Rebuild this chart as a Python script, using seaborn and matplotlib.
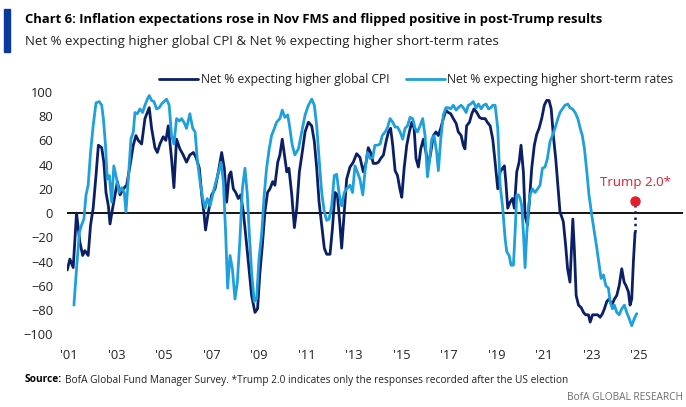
import matplotlib
matplotlib.use("Agg")
import matplotlib.pyplot as plt
from matplotlib.patches import Rectangle
import seaborn as sns
import pandas as pd

# Net % expecting higher global CPI
cpi_year = [2000.93, 2001.04, 2001.18, 2001.32, 2001.46, 2001.58, 2001.67, 2001.81, 2001.91, 2002.02,
            2002.14, 2002.24, 2002.38, 2002.47, 2002.56, 2002.66, 2002.73, 2002.84, 2002.94, 2003.04,
            2003.15, 2003.29, 2003.43, 2003.57, 2003.71, 2003.82, 2003.92, 2004.06, 2004.20, 2004.30,
            2004.38, 2004.48, 2004.62, 2004.72, 2004.83, 2004.97, 2005.08, 2005.18, 2005.32, 2005.42,
            2005.53, 2005.67, 2005.81, 2005.95, 2006.09, 2006.24, 2006.35, 2006.49, 2006.59, 2006.68,
            2006.75, 2006.87, 2007.01, 2007.15, 2007.29, 2007.43, 2007.54, 2007.64, 2007.74, 2007.82,
            2007.92, 2008.02, 2008.13, 2008.23, 2008.34, 2008.44, 2008.55, 2008.69, 2008.83, 2008.94,
            2009.04, 2009.14, 2009.25, 2009.36, 2009.46, 2009.58, 2009.67, 2009.79, 2009.88, 2009.98,
            2010.07, 2010.17, 2010.26, 2010.38, 2010.49, 2010.59, 2010.70, 2010.82, 2010.94, 2011.08,
            2011.22, 2011.33, 2011.43, 2011.53, 2011.64, 2011.75, 2011.85, 2011.99, 2012.09, 2012.20,
            2012.30, 2012.41, 2012.48, 2012.59, 2012.69, 2012.83, 2012.97, 2013.11, 2013.25, 2013.39,
            2013.51, 2013.60, 2013.70, 2013.81, 2013.93, 2014.03, 2014.12, 2014.24, 2014.35, 2014.45,
            2014.54, 2014.63, 2014.73, 2014.83, 2014.94, 2015.01, 2015.11, 2015.22, 2015.33, 2015.43,
            2015.53, 2015.61, 2015.71, 2015.81, 2015.92, 2016.03, 2016.13, 2016.23, 2016.34, 2016.45,
            2016.55, 2016.65, 2016.76, 2016.87, 2016.97, 2017.07, 2017.18, 2017.30, 2017.39, 2017.51,
            2017.60, 2017.67, 2017.74, 2017.86, 2017.96, 2018.05, 2018.17, 2018.28, 2018.38, 2018.52,
            2018.61, 2018.73, 2018.84, 2018.94, 2019.05, 2019.15, 2019.25, 2019.33, 2019.39, 2019.47,
            2019.57, 2019.67, 2019.75, 2019.85, 2019.95, 2020.03, 2020.13, 2020.20, 2020.30, 2020.38,
            2020.48, 2020.59, 2020.69, 2020.79, 2020.90, 2021.01, 2021.11, 2021.21, 2021.30, 2021.39,
            2021.49, 2021.58, 2021.67, 2021.81, 2021.91, 2021.99, 2022.09, 2022.16, 2022.21, 2022.28,
            2022.35, 2022.45, 2022.56, 2022.66, 2022.75, 2022.87, 2022.94, 2023.04, 2023.15, 2023.26,
            2023.36, 2023.46, 2023.54, 2023.64, 2023.74, 2023.85, 2023.96, 2024.06, 2024.16, 2024.27,
            2024.37, 2024.45, 2024.55, 2024.62, 2024.69, 2024.76, 2024.83]
cpi_val = [-47, -38, -45, 0, -24, -35, -31, -35, -10, 4,
           31, 56, 54, 42, 17, 6, -9, 4, 15, 26,
           15, 20, 23, 39, 56, 64, 60, 57, 78, 83,
           87, 70, 54, 50, 57, 63, 60, 72, 45, 21,
           61, 53, 48, 42, 48, 50, 46, 37, 15, 1,
           -14, 1, 15, 20, 34, 50, 37, 9, 31, 34,
           20, 17, 12, 15, 1, -18, -40, -68, -82, -79,
           -49, -27, 1, 17, 20, 26, 23, 42, 48, 61,
           48, 34, 37, 15, -12, 4, 34, 50, 67, 75,
           72, 59, 37, 9, -10, -29, -34, -34, -13, 17,
           15, -10, -29, 1, 28, 38, 42, 49, 46, 34,
           42, 54, 50, 41, 41, 42, 45, 48, 59, 67,
           70, 56, 35, 31, 19, 13, 37, 56, 67, 75,
           70, 45, 38, 53, 61, 50, 39, 50, 64, 67,
           64, 70, 78, 85, 83, 82, 78, 74, 67, 64,
           56, 53, 72, 75, 82, 86, 83, 79, 78, 78,
           75, 72, 61, 42, 20, 34, 37, 39, 26, 4,
           9, 12, 4, 34, 42, 56, 34, -2, -10, 9,
           37, 56, 65, 70, 78, 89, 93, 93, 86, 64,
           45, 23, 1, -7, -27, -46, -57, -27, -5, -32,
           -68, -76, -78, -82, -84, -84, -90, -84, -84, -84,
           -86, -83, -79, -73, -71, -76, -71, -68, -60, -46,
           -57, -60, -65, -76, -71, -40, -16]

# Net % expecting higher short-term rates
rates_year = [2001.21, 2001.32, 2001.44, 2001.53, 2001.63, 2001.72, 2001.81, 2001.91, 2002.02, 2002.14,
              2002.28, 2002.38, 2002.45, 2002.54, 2002.61, 2002.70, 2002.80, 2002.89, 2003.01, 2003.11,
              2003.22, 2003.33, 2003.40, 2003.50, 2003.61, 2003.71, 2003.78, 2003.88, 2003.99, 2004.10,
              2004.20, 2004.30, 2004.38, 2004.48, 2004.58, 2004.69, 2004.80, 2004.90, 2005.00, 2005.11,
              2005.22, 2005.32, 2005.42, 2005.53, 2005.65, 2005.74, 2005.84, 2005.95, 2006.09, 2006.21,
              2006.31, 2006.40, 2006.52, 2006.63, 2006.73, 2006.82, 2006.94, 2007.05, 2007.15, 2007.26,
              2007.40, 2007.50, 2007.60, 2007.68, 2007.78, 2007.88, 2007.99, 2008.09, 2008.20, 2008.30,
              2008.41, 2008.51, 2008.59, 2008.69, 2008.80, 2008.90, 2009.00, 2009.11, 2009.22, 2009.32,
              2009.43, 2009.53, 2009.65, 2009.74, 2009.88, 2009.98, 2010.09, 2010.21, 2010.30, 2010.40,
              2010.51, 2010.66, 2010.80, 2010.94, 2011.08, 2011.22, 2011.33, 2011.43, 2011.53, 2011.64,
              2011.75, 2011.85, 2011.95, 2012.06, 2012.17, 2012.27, 2012.38, 2012.48, 2012.59, 2012.69,
              2012.83, 2012.94, 2013.04, 2013.14, 2013.25, 2013.37, 2013.46, 2013.56, 2013.67, 2013.79,
              2013.88, 2013.98, 2014.10, 2014.19, 2014.31, 2014.40, 2014.52, 2014.63, 2014.73, 2014.83,
              2014.94, 2015.05, 2015.15, 2015.25, 2015.36, 2015.47, 2015.57, 2015.67, 2015.78, 2015.89,
              2015.99, 2016.09, 2016.17, 2016.27, 2016.37, 2016.48, 2016.55, 2016.65, 2016.76, 2016.87,
              2016.97, 2017.07, 2017.18, 2017.30, 2017.39, 2017.51, 2017.60, 2017.72, 2017.81, 2017.91,
              2018.02, 2018.14, 2018.24, 2018.35, 2018.45, 2018.56, 2018.66, 2018.76, 2018.84, 2018.94,
              2019.05, 2019.15, 2019.25, 2019.36, 2019.43, 2019.53, 2019.61, 2019.71, 2019.78, 2019.85,
              2019.92, 2019.99, 2020.06, 2020.13, 2020.20, 2020.27, 2020.34, 2020.41, 2020.51, 2020.62,
              2020.73, 2020.83, 2020.93, 2021.04, 2021.14, 2021.25, 2021.35, 2021.46, 2021.58, 2021.67,
              2021.77, 2021.88, 2022.00, 2022.09, 2022.19, 2022.31, 2022.42, 2022.52, 2022.61, 2022.70,
              2022.80, 2022.89, 2023.01, 2023.12, 2023.22, 2023.32, 2023.40, 2023.50, 2023.60, 2023.71,
              2023.78, 2023.88, 2023.96, 2024.06, 2024.16, 2024.27, 2024.38, 2024.48, 2024.58, 2024.69,
              2024.80, 2024.90]
rates_val = [-76, -46, -16, -10, -5, 15, 23, 50, 72, 91,
             92, 89, 78, 56, 28, 31, 9, 39, 28, 17,
             21, 17, 1, 28, 61, 67, 83, 82, 86, 83,
             89, 94, 97, 93, 92, 86, 87, 90, 92, 94,
             89, 64, 57, 78, 76, 78, 75, 70, 82, 70,
             67, 45, 26, 12, 4, 12, 6, 15, 23, 31,
             42, 26, -18, -62, -35, -46, -71, -57, -21, 20,
             37, 15, -16, -49, -73, -71, -38, -18, 15, 37,
             53, 64, 70, 75, 78, 85, 79, 81, 70, 56,
             48, 53, 67, 81, 89, 94, 89, 72, 45, 17,
             1, -6, -5, 6, 31, 32, 15, 6, 17, 20,
             23, 17, 39, 34, 28, 15, 34, 50, 45, 46,
             56, 56, 57, 64, 67, 70, 78, 75, 71, 71,
             67, 61, 70, 72, 79, 78, 70, 67, 72, 78,
             64, 30, 42, 61, 64, 50, 35, 61, 81, 87,
             87, 86, 89, 85, 87, 89, 87, 83, 89, 90,
             92, 87, 90, 86, 89, 90, 86, 87, 89, 89,
             70, 23, 6, -21, -32, -35, -43, -43, -16, 15,
             15, 12, 6, -16, -45, -18, 4, 15, 20, 17,
             20, 23, 37, 38, 45, 59, 64, 70, 78, 83,
             86, 89, 90, 87, 86, 83, 78, 70, 64, 53,
             34, 15, -2, -16, -29, -43, -54, -51, -60, -62,
             -73, -79, -76, -82, -84, -79, -76, -82, -87, -93,
             -87, -83]

# Trump 2.0 (post-election responses only)
trump_year = 2024.83
trump_val = 10
cpi_last = -16

x_ticks = [2001, 2003, 2005, 2007, 2009, 2011, 2013, 2015, 2017, 2019, 2021, 2023, 2025]
x_labels = ["'01", "'03", "'05", "'07", "'09", "'11", "'13", "'15", "'17", "'19", "'21", "'23", "'25"]
y_ticks = [-100, -80, -60, -40, -20, 0, 20, 40, 60, 80, 100]

NAVY = "#0b1f66"
LIGHT = "#1ea0dc"
RED = "#e31d2b"
TXT = "#222222"

sns.set_theme(style="white")
plt.rcParams['font.family'] = ['Open Sans', 'DejaVu Sans']

cpi_df = pd.DataFrame({"year": cpi_year, "value": cpi_val})
rates_df = pd.DataFrame({"year": rates_year, "value": rates_val})

fig = plt.figure(figsize=(6.86, 4.07), dpi=100)
ax = fig.add_axes([0.0977, 0.164, 0.898, 0.625])

ax.axhline(0, color="black", linewidth=1.3, zorder=1)
sns.lineplot(data=cpi_df, x="year", y="value", color=NAVY, linewidth=2.0, ax=ax,
             label="Net % expecting higher global CPI", zorder=2)
sns.lineplot(data=rates_df, x="year", y="value", color=LIGHT, linewidth=2.0, ax=ax,
             label="Net % expecting higher short-term rates", zorder=3)

# dotted jump to post-election reading
ax.plot([trump_year, trump_year], [cpi_last, trump_val], linestyle=(0, (1, 1.5)),
        color=NAVY, linewidth=1.8, zorder=4)
ax.plot([trump_year], [trump_val], "o", color=RED, markersize=6.5, zorder=5)
ax.text(trump_year, trump_val + 15, "Trump 2.0*", color=RED, fontsize=9.5,
        ha="center", va="center")

ax.set_xlim(2000.92, 2026.85)
ax.set_ylim(-105, 105)
ax.set_xticks(x_ticks)
ax.set_xticklabels(x_labels)
ax.set_yticks(y_ticks)
ax.set_xlabel("")
ax.set_ylabel("")
ax.tick_params(axis="both", length=0, labelsize=9.3, labelcolor=TXT)
ax.tick_params(axis="y", pad=10)
ax.tick_params(axis="x", pad=6)
sns.despine(ax=ax, left=True, bottom=True)

ax.legend(loc="center", bbox_to_anchor=(0.607, 1 - 80 / 407), bbox_transform=fig.transFigure,
          ncol=2, frameon=False, fontsize=8.7, handlelength=3.2, handletextpad=0.2,
          columnspacing=1.4, labelcolor=TXT)

# header
fig.patches.append(Rectangle((0.006, 0.873), 0.008, 0.105, transform=fig.transFigure,
                             color="#0a3a9e", zorder=5))
fig.text(0.036, 1 - 20 / 407, "Chart 6: Inflation expectations rose in Nov FMS and flipped positive in post-Trump results",
         fontsize=9.4, fontweight="bold", color="black", va="center")
fig.text(0.036, 1 - 41 / 407, "Net % expecting higher global CPI & Net % expecting higher short-term rates",
         fontsize=9.5, color=TXT, va="center")

# footer
src = fig.text(0.036, 1 - 380 / 407, "Source:", fontsize=7.3, fontweight="bold", color="black", va="center")
ax.annotate("BofA Global Fund Manager Survey. *Trump 2.0 indicates only the responses recorded after the US election",
            xy=(1, 0.5), xycoords=src, xytext=(2, 0), textcoords="offset points",
            fontsize=7.3, color=TXT, va="center", annotation_clip=False)
fig.text(0.995, 1 - 397 / 407, "BofA GLOBAL RESEARCH", fontsize=7.3, color="#6b6b6b",
         ha="right", va="center")

fig.savefig("out.png", dpi=100)
